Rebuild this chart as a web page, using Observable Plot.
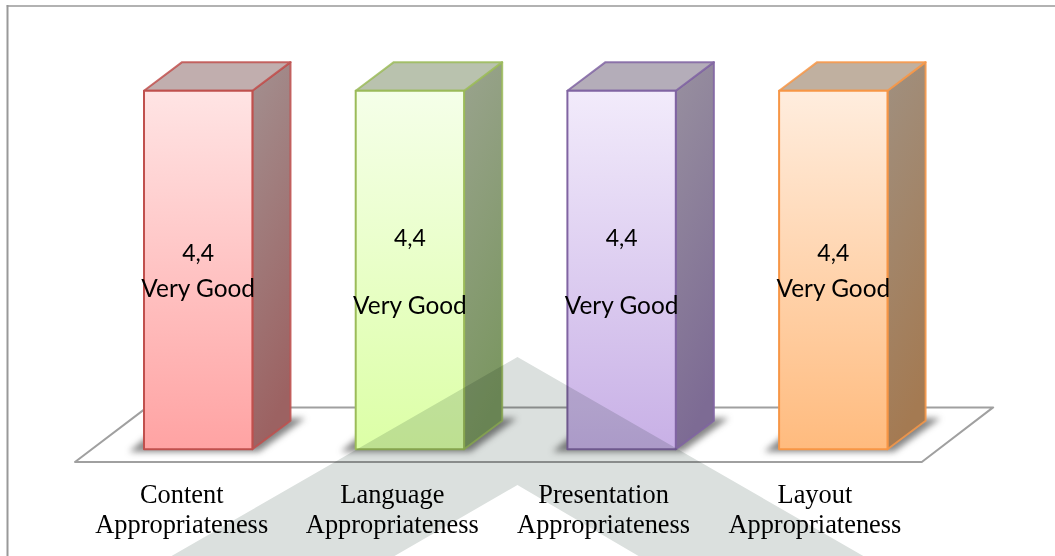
<!DOCTYPE html>
<html>
<head>
<meta charset="utf-8">
<script src="https://cdn.jsdelivr.net/npm/d3@7"></script>
<script src="https://cdn.jsdelivr.net/npm/@observablehq/plot@0.6"></script>
<style>
html,body{margin:0;padding:0;background:#fff;}
svg{display:block;}
</style>
</head>
<body>
<div id="chart"></div>
<script>
const categories = ["Content\nAppropriateness", "Language\nAppropriateness", "Presentation\nAppropriateness", "Layout\nAppropriateness"];
const values = [4.4, 4.4, 4.4, 4.4];
const ratings = ["Very Good", "Very Good", "Very Good", "Very Good"];
const edgeColors = ["#c0504d", "#9bbb59", "#8064a2", "#f79646"];
const frontTop = ["#ffe4e4", "#f5ffe9", "#f2ebfb", "#ffedde"];
const frontBottom = ["#ffa3a3", "#dcffa6", "#c8b0e6", "#ffbb7e"];
const topFaces = ["#c1aeae", "#b9c2ae", "#b4adb9", "#c0b0a0"];
const sideTop = ["#a39090", "#9aa38e", "#98909f", "#a09080"];
const sideBottom = ["#9c6262", "#7a9660", "#7d6b94", "#a47a52"];

// layout, in the units of the two scales
const halfWidth = 0.256, depthX = 0.18, depthY = 0.35;
const valueLift = [2.4, 2.58, 2.58, 2.4];
const ratingLift = [1.97, 1.76, 1.76, 1.97];
const labelOffset = [-0.078, -0.083, -0.085, -0.087];
const floorCorners = [[-0.582,-0.156],[3.418,-0.156],[3.755,0.514],[-0.242,0.514],[-0.582,-0.156]];
const watermarkCorners = [[1.508,1.132],[3.149,-1.32],[2.087,-1.32],[1.508,-0.438],[0.92,-1.32],[-0.133,-1.32],[1.508,1.132]];

const rows = categories.map((c, i) => ({i, c, v: values[i], rating: ratings[i]}));

const defs = () => {
  const d = d3.create("svg:defs");
  const grad = (id, a, b, x2) => {
    const g = d.append("linearGradient").attr("id", id).attr("x1", 0).attr("y1", 0).attr("x2", x2).attr("y2", 1);
    g.append("stop").attr("offset", "0%").attr("stop-color", a);
    g.append("stop").attr("offset", "100%").attr("stop-color", b);
  };
  rows.forEach(({i}) => {
    grad("front" + i, frontTop[i], frontBottom[i], 0);
    grad("side" + i, sideTop[i], sideBottom[i], 0.2);
  });
  return d.node();
};

const polygon = (pts, options) => Plot.line(pts, {x: "0", y: "1", curve: "linear-closed", ...options});

const barMarks = rows.flatMap(({i, v}) => {
  const l = i - halfWidth, r = i + halfWidth;
  const shadow = [[l - 0.07, -0.03], [r + 0.03, -0.03], [r + depthX + 0.07, depthY + 0.03], [l + 0.12, depthY + 0.03]];
  const side = [[r, 0], [r + depthX, depthY], [r + depthX, v + depthY], [r, v]];
  const top = [[l, v], [r, v], [r + depthX, v + depthY], [l + depthX, v + depthY]];
  const front = [[l, 0], [r, 0], [r, v], [l, v]];
  const style = {stroke: edgeColors[i], strokeWidth: 2, strokeLinejoin: "round"};
  return [
    polygon(shadow, {fill: "#333", stroke: "none", fillOpacity: 0.6, imageFilter: "blur(3px)"}),
    polygon(side, {fill: `url(#side${i})`, ...style, strokeOpacity: 0.85}),
    polygon(top, {fill: topFaces[i], ...style, strokeOpacity: 0.85}),
    polygon(front, {fill: `url(#front${i})`, ...style})
  ];
});

const chart = Plot.plot({
  width: 1055,
  height: 556,
  marginTop: 5.5,
  marginLeft: 7,
  marginRight: 0,
  marginBottom: 0,
  style: {background: "#fff", overflow: "hidden"},
  x: {domain: [0, 3], range: [197.7, 832.8], axis: null},
  y: {domain: [0, 4.4], range: [448.8, 90.2], axis: null},
  marks: [
    defs,
    Plot.frame({anchor: "left", stroke: "#999", strokeWidth: 2}),
    Plot.frame({anchor: "top", stroke: "#999", strokeWidth: 1.5}),
    polygon(floorCorners, {stroke: "#a0a0a0", strokeWidth: 2, fill: "#fff"}),
    ...barMarks,
    Plot.text(rows, {x: "i", y: (d) => valueLift[d.i], text: (d) => String(d.v).replace(".", ","), fontFamily: "Lato", fontSize: 23, fill: "#000"}),
    Plot.text(rows, {x: "i", y: (d) => ratingLift[d.i], text: "rating", fontFamily: "Lato", fontSize: 24.4, fill: "#000"}),
    Plot.text(rows, {x: (d) => d.i + labelOffset[d.i], y: -0.72, text: "c", fontFamily: "Liberation Serif", fontSize: 26.4, lineHeight: 1.14, fill: "#000"}),
    polygon(watermarkCorners, {fill: "#dbe0de", stroke: "none", mixBlendMode: "multiply"})
  ]
});
document.getElementById("chart").append(chart);
</script>
</body>
</html>
